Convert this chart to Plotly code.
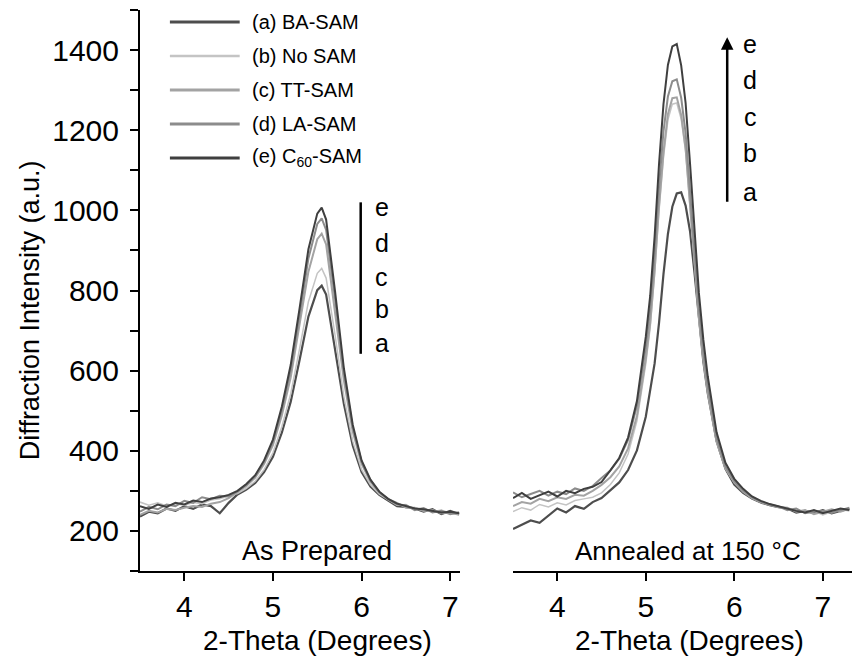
import plotly.graph_objects as go

# ---------------- data ----------------
series_keys = ["a", "b", "c", "d", "e"]
series_names = ["(a) BA-SAM", "(b) No SAM", "(c) TT-SAM", "(d) LA-SAM", "(e) C<sub>60</sub>-SAM"]

# As prepared panel
x_prepared = [3.5, 3.6, 3.7, 3.8, 3.9, 4.0, 4.1, 4.2, 4.3, 4.4, 4.5,
              4.6, 4.7, 4.8, 4.9, 5.0, 5.1, 5.2, 5.3, 5.4, 5.5,
              5.55,
              5.6, 5.7, 5.8, 5.9, 6.0, 6.1, 6.2, 6.3,
              6.4, 6.5, 6.6, 6.7, 6.8, 6.9, 7.0, 7.1]
prep_a = [236, 248, 244, 256, 250, 262, 255, 266, 262, 244, 270,
          291, 303, 320, 347, 385, 445, 522, 626, 735, 801,
          812,
          790, 659, 517, 413, 347, 311, 290, 276,
          262, 260, 256, 248, 254, 242, 250, 242]
prep_b = [272, 264, 270, 262, 268, 264, 271, 268, 277, 280, 287,
          293, 306, 324, 353, 395, 460, 542, 654, 772, 843,
          855,
          831, 690, 536, 424, 353, 315, 292, 277,
          264, 266, 254, 255, 248, 252, 244, 247]
prep_c = [240, 250, 246, 255, 252, 258, 262, 260, 268, 272, 282,
          297, 312, 333, 367, 414, 488, 583, 712, 847, 928,
          942,
          915, 752, 576, 448, 367, 323, 295, 279,
          270, 258, 258, 250, 252, 244, 246, 240]
prep_d = [248, 260, 254, 266, 262, 275, 270, 284, 279, 288, 286,
          299, 315, 337, 372, 422, 501, 601, 737, 880, 966,
          980,
          951, 780, 594, 458, 372, 326, 297, 279,
          266, 264, 252, 257, 246, 250, 242, 246]
prep_e = [262, 255, 266, 260, 270, 266, 276, 272, 281, 284, 290,
          300, 317, 339, 376, 428, 510, 614, 755, 903, 992,
          1007,
          977, 799, 606, 465, 376, 328, 298, 280,
          268, 262, 256, 254, 250, 246, 248, 244]

# Annealed at 150 C panel
x_annealed = [3.5, 3.6, 3.7, 3.8, 3.9, 4.0, 4.1, 4.2, 4.3, 4.4,
              4.5, 4.6, 4.7, 4.8, 4.9,
              5.0, 5.05, 5.1, 5.15, 5.2, 5.25, 5.3, 5.35, 5.4, 5.45, 5.5, 5.55, 5.6, 5.65, 5.7,
              5.8, 5.9, 6.0, 6.1, 6.2, 6.3, 6.4, 6.5,
              6.6, 6.7, 6.8, 6.9, 7.0, 7.1, 7.2, 7.3]
ann_a = [205, 215, 226, 220, 238, 256, 246, 262, 255, 272,
         282, 301, 321, 352, 401,
         485, 548, 618, 720, 841, 941, 1009, 1042, 1045, 1012, 948, 845, 726, 623, 544,
         424, 355, 316, 295, 281, 271, 264, 259,
         256, 246, 250, 245, 252, 244, 250, 256]
ann_b = [248, 258, 252, 266, 260, 270, 265, 276, 280, 284,
         295, 316, 345, 392, 475,
         617, 708, 840, 1000, 1132, 1226, 1265, 1268, 1228, 1147, 1015, 862, 730, 627, 546,
         423, 356, 320, 298, 282, 272, 265, 260,
         254, 252, 248, 250, 240, 248, 254, 250]
ann_c = [262, 272, 268, 280, 274, 284, 280, 290, 288, 300,
         315, 334, 361, 406, 487,
         629, 719, 851, 1012, 1144, 1240, 1280, 1282, 1238, 1154, 1020, 866, 733, 630, 548,
         424, 356, 321, 298, 282, 272, 265, 260,
         258, 248, 252, 242, 248, 254, 248, 255]
ann_d = [296, 284, 292, 300, 288, 298, 292, 306, 300, 312,
         332, 351, 380, 427, 512,
         659, 754, 891, 1060, 1197, 1284, 1322, 1327, 1281, 1193, 1053, 893, 754, 646, 561,
         431, 361, 324, 301, 284, 273, 266, 261,
         252, 256, 244, 248, 250, 245, 252, 258]
ann_e = [282, 295, 280, 290, 298, 286, 300, 294, 305, 310,
         322, 351, 382, 433, 524,
         684, 787, 935, 1117, 1265, 1363, 1409, 1415, 1362, 1268, 1117, 944, 794, 678, 586,
         446, 370, 330, 305, 286, 275, 267, 261,
         255, 250, 246, 252, 244, 250, 256, 252]

y_tickvals = [200, 400, 600, 800, 1000, 1200, 1400]
x_tickvals = [4, 5, 6, 7]
order_letters = ["e", "d", "c", "b", "a"]
prep_letter_y = [1008, 918, 833, 755, 668]
ann_letter_y = [1415, 1325, 1232, 1142, 1045]

# ---------------- style ----------------
FONT = "Liberation Sans, Arial, sans-serif"
colors = {"a": "#4d4d4d", "b": "#c4c4c4", "c": "#a3a3a3", "d": "#8c8c8c", "e": "#3f3f3f"}
widths = {"a": 2.2, "b": 1.5, "c": 2.0, "d": 2.0, "e": 2.0}

prep = {"a": prep_a, "b": prep_b, "c": prep_c, "d": prep_d, "e": prep_e}
ann = {"a": ann_a, "b": ann_b, "c": ann_c, "d": ann_d, "e": ann_e}

fig = go.Figure()
for k, name in zip(series_keys, series_names):
    fig.add_trace(go.Scatter(x=x_prepared, y=prep[k], mode="lines", name=name,
                             line=dict(color=colors[k], width=widths[k]),
                             xaxis="x", yaxis="y", showlegend=False))
for k, name in zip(series_keys, series_names):
    fig.add_trace(go.Scatter(x=x_annealed, y=ann[k], mode="lines", name=name,
                             line=dict(color=colors[k], width=widths[k]),
                             xaxis="x2", yaxis="y2", showlegend=False))

axis_common = dict(showgrid=False, zeroline=False, showline=True, linecolor="black",
                   linewidth=2, ticks="outside", ticklen=8, tickwidth=2, tickcolor="black",
                   tickfont=dict(family=FONT, size=30, color="black"))

fig.update_layout(
    width=852, height=665,
    margin=dict(l=140, r=0, t=10, b=94),
    paper_bgcolor="white", plot_bgcolor="white",
    font=dict(family=FONT, color="black"),
    xaxis=dict(domain=[0, 0.4494], range=[3.5, 7.11], tickvals=x_tickvals, anchor="y",
               **axis_common),
    xaxis2=dict(domain=[0.5239, 1.0], range=[3.5, 7.33], tickvals=x_tickvals, anchor="y2",
                **axis_common),
    yaxis=dict(range=[100, 1500], tickvals=y_tickvals, anchor="x", ticklabelstandoff=5,
               minor=dict(dtick=100, tick0=100, ticks="outside", ticklen=8, tickwidth=2,
                          tickcolor="black"),
               **axis_common),
    yaxis2=dict(range=[100, 1500], anchor="x2", visible=False),
)

annotations = []
shapes = []
# axis titles
annotations.append(dict(text="Diffraction Intensity (a.u.)", xref="paper", yref="paper",
                        x=-0.1545, y=0.465, xanchor="center", yanchor="middle",
                        textangle=-90, showarrow=False, font=dict(family=FONT, size=27)))
annotations.append(dict(text="2-Theta (Degrees)", xref="paper", yref="paper",
                        x=0.249, y=-0.123, xanchor="center", yanchor="middle",
                        showarrow=False, font=dict(family=FONT, size=28)))
annotations.append(dict(text="2-Theta (Degrees)", xref="paper", yref="paper",
                        x=0.772, y=-0.123, xanchor="center", yanchor="middle",
                        showarrow=False, font=dict(family=FONT, size=28)))
# panel labels
annotations.append(dict(text="As Prepared", xref="x", yref="y", x=5.5, y=150,
                        xanchor="center", yanchor="middle",
                        showarrow=False, font=dict(family=FONT, size=27)))
annotations.append(dict(text="Annealed at 150 °C", xref="x2", yref="y2", x=5.48, y=150,
                        xanchor="center", yanchor="middle",
                        showarrow=False, font=dict(family=FONT, size=26)))

# order markers
for L, yv in zip(order_letters, prep_letter_y):
    annotations.append(dict(text=L, xref="x", yref="y", x=6.23, y=yv, showarrow=False,
                            xanchor="center", yanchor="middle",
                            font=dict(family=FONT, size=25)))
for L, yv in zip(order_letters, ann_letter_y):
    annotations.append(dict(text=L, xref="x2", yref="y2", x=6.18, y=yv, showarrow=False,
                            xanchor="center", yanchor="middle",
                            font=dict(family=FONT, size=25)))
shapes.append(dict(type="line", xref="x", yref="y", x0=5.99, x1=5.99, y0=642, y1=1020,
                   line=dict(color="black", width=2.5)))
annotations.append(dict(text="", xref="x2", yref="y2", x=5.92, y=1432, ax=5.92, ay=1018,
                        axref="x2", ayref="y2", showarrow=True, arrowhead=2, arrowsize=1,
                        arrowwidth=2.5, arrowcolor="black"))

# legend (drawn as lines + text at the top-left of the first panel)
leg_y = [0.9786, 0.918, 0.8574, 0.7968, 0.7362]
for k, name, yy in zip(series_keys, series_names, leg_y):
    shapes.append(dict(type="line", xref="paper", yref="paper", x0=0.042, x1=0.140,
                       y0=yy, y1=yy, line=dict(color=colors[k], width=widths[k] + 0.8)))
    annotations.append(dict(text=name, xref="paper", yref="paper", x=0.1545, y=yy,
                            xanchor="left", yanchor="middle", showarrow=False,
                            font=dict(family=FONT, size=20)))

fig.update_layout(annotations=annotations, shapes=shapes)
fig.write_html("out.html")
